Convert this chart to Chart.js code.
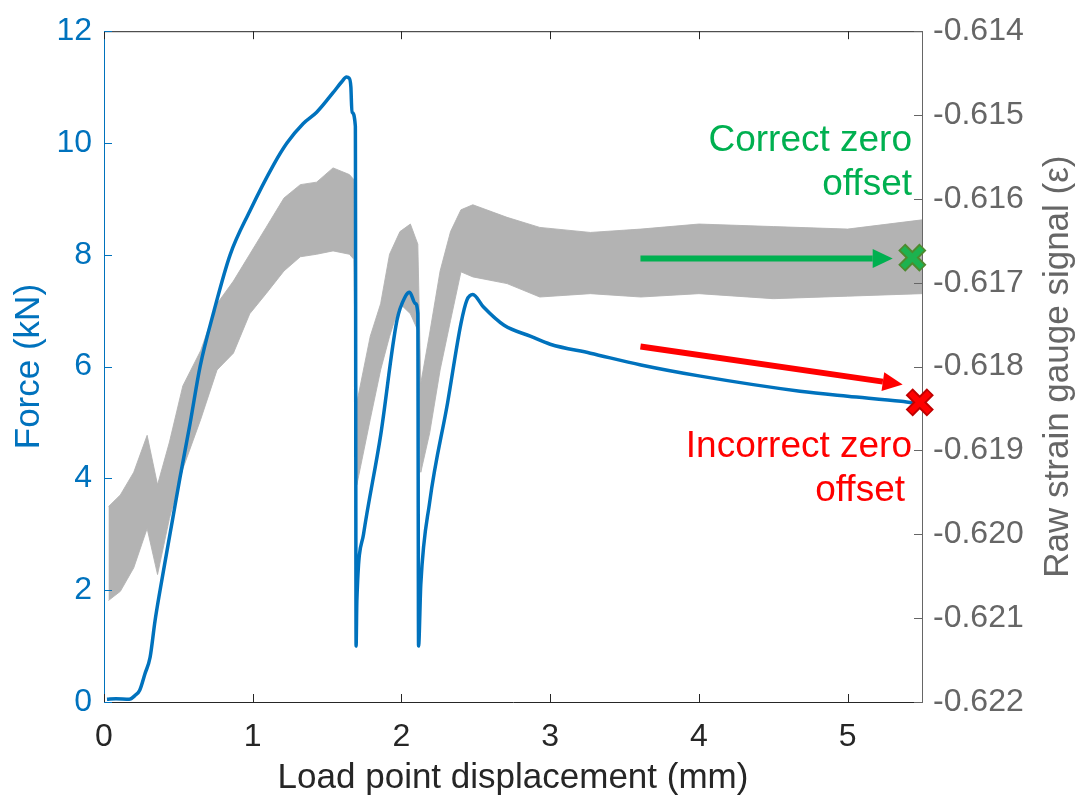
<!DOCTYPE html>
<html>
<head>
<meta charset="utf-8">
<script src="https://cdn.jsdelivr.net/npm/chart.js@4.4.1/dist/chart.umd.min.js"></script>
<style>
  body { margin: 0; background: #fff; }
  canvas { display: block; }
</style>
</head>
<body>
<canvas id="chart" width="1079" height="801"></canvas>
<script>
// Lực (kN) theo chuyển vị (mm)
const forceX = [0.02, 0.08, 0.17, 0.21, 0.24, 0.276, 0.31, 0.343, 0.377, 0.42, 0.46, 0.51, 0.58, 0.646, 0.74, 0.848, 0.98, 1.14, 1.23, 1.34, 1.43, 1.54, 1.60, 1.63, 1.648, 1.66, 1.667, 1.69, 1.695, 1.70, 1.745, 1.86, 1.97, 2.025, 2.055, 2.093, 2.11, 2.115, 2.13, 2.19, 2.31, 2.40, 2.44, 2.48, 2.55, 2.69, 2.87, 3.0, 3.27, 3.61, 4.01, 4.68, 5.0, 5.36, 5.49];
const forceY = [0.05, 0.06, 0.05, 0.12, 0.21, 0.51, 0.8, 1.45, 2.0, 2.65, 3.25, 4.0, 5.0, 6.0, 7.0, 8.0, 8.78, 9.61, 10.0, 10.35, 10.55, 10.9, 11.1, 11.18, 11.16, 11.0, 10.55, 10.3, 1.0, 1.8, 3.0, 4.77, 6.83, 7.25, 7.33, 7.13, 6.95, 1.0, 2.1, 3.58, 5.35, 6.77, 7.19, 7.29, 7.07, 6.74, 6.54, 6.4, 6.24, 6.03, 5.83, 5.56, 5.47, 5.38, 5.33];

// Tín hiệu strain gauge (dải nhiễu: biên trên / biên dưới)
const strainX = [0.03, 0.11, 0.20, 0.29, 0.36, 0.44, 0.53, 0.65, 0.76, 0.87, 0.98, 1.09, 1.21, 1.32, 1.43, 1.54, 1.65, 1.68, 1.70, 1.79, 1.86, 1.92, 1.99, 2.06, 2.11, 2.13, 2.19, 2.26, 2.33, 2.40, 2.48, 2.71, 2.93, 3.27, 3.61, 4.00, 4.50, 5.00, 5.50];
const strainUpper = [-0.61967, -0.61953, -0.61926, -0.61882, -0.61941, -0.61890, -0.61823, -0.61781, -0.61725, -0.61698, -0.61666, -0.61634, -0.61599, -0.61583, -0.61580, -0.61563, -0.61571, -0.61577, -0.61843, -0.61764, -0.61725, -0.61666, -0.61639, -0.61630, -0.61654, -0.61820, -0.61760, -0.61686, -0.61639, -0.61613, -0.61607, -0.61622, -0.61634, -0.61640, -0.61636, -0.61630, -0.61633, -0.61636, -0.61625];
const strainLower = [-0.62079, -0.62068, -0.62040, -0.61993, -0.62048, -0.61981, -0.61922, -0.61863, -0.61804, -0.61784, -0.61737, -0.61713, -0.61686, -0.61669, -0.61666, -0.61662, -0.61666, -0.61672, -0.61941, -0.61863, -0.61804, -0.61764, -0.61725, -0.61737, -0.61757, -0.61926, -0.61879, -0.61804, -0.61745, -0.61687, -0.61693, -0.61701, -0.61717, -0.61713, -0.61717, -0.61713, -0.61719, -0.61716, -0.61713];

// Mũi tên và điểm đánh dấu
const correctArrowX = [3.607, 5.303];
const correctArrowY = [-0.61671, -0.61671];
const incorrectArrowX = [3.607, 5.37];
const incorrectArrowY = [6.36, 5.68];
const correctMarkX = [5.435];
const correctMarkY = [-0.61670];
const incorrectMarkX = [5.485];
const incorrectMarkY = [5.36];

// Nhãn trục
const xTicks = [0, 1, 2, 3, 4, 5];
const forceTicks = [0, 2, 4, 6, 8, 10, 12];
const strainTicks = [-0.622, -0.621, -0.62, -0.619, -0.618, -0.617, -0.616, -0.615, -0.614];

const BLUE = "#0072BD";
const GREY_AXIS = "#666666";
const DARK = "#262626";
const FONT = "'Liberation Sans', Arial, sans-serif";

function pts(xs, ys) {
  return xs.map((x, i) => ({ x: x, y: ys[i] }));
}

// Vẽ mũi tên, vạch chia hướng vào trong, chữ chú thích
const overlayPlugin = {
  id: "overlay",
  afterDatasetsDraw(chart) {
    const ctx = chart.ctx;
    chart.data.datasets.forEach((ds, i) => {
      if (!ds.arrow) return;
      const p = chart.getDatasetMeta(i).data;
      const p0 = p[0], p1 = p[1];
      const ang = Math.atan2(p1.y - p0.y, p1.x - p0.x);
      const head = 20, half = 9.5;
      const bx = p1.x - head * Math.cos(ang);
      const by = p1.y - head * Math.sin(ang);
      ctx.save();
      ctx.strokeStyle = ds.borderColor;
      ctx.fillStyle = ds.borderColor;
      ctx.lineWidth = 6;
      ctx.beginPath();
      ctx.moveTo(p0.x, p0.y);
      ctx.lineTo(bx, by);
      ctx.stroke();
      ctx.beginPath();
      ctx.moveTo(p1.x, p1.y);
      ctx.lineTo(bx - half * Math.sin(ang), by + half * Math.cos(ang));
      ctx.lineTo(bx + half * Math.sin(ang), by - half * Math.cos(ang));
      ctx.closePath();
      ctx.fill();
      ctx.restore();
    });
  },
  afterDraw(chart) {
    const ctx = chart.ctx;
    const a = chart.chartArea;
    const sx = chart.scales.x, sy = chart.scales.y, sy2 = chart.scales.y2;
    const tl = 8;
    ctx.save();
    ctx.lineWidth = 1;
    // viền trên
    ctx.strokeStyle = DARK;
    ctx.beginPath();
    ctx.moveTo(a.left, a.top + 0.5);
    ctx.lineTo(a.right, a.top + 0.5);
    ctx.stroke();
    // vạch trục x (dưới và trên)
    xTicks.forEach((v) => {
      const px = Math.round(sx.getPixelForValue(v)) + 0.5;
      ctx.beginPath();
      ctx.moveTo(px, a.bottom);
      ctx.lineTo(px, a.bottom - tl);
      ctx.moveTo(px, a.top);
      ctx.lineTo(px, a.top + tl);
      ctx.stroke();
    });
    // vạch trục trái
    ctx.strokeStyle = BLUE;
    forceTicks.forEach((v) => {
      const py = Math.round(sy.getPixelForValue(v)) + 0.5;
      ctx.beginPath();
      ctx.moveTo(a.left, py);
      ctx.lineTo(a.left + tl, py);
      ctx.stroke();
    });
    // vạch trục phải
    ctx.strokeStyle = GREY_AXIS;
    strainTicks.forEach((v) => {
      const py = Math.round(sy2.getPixelForValue(v)) + 0.5;
      ctx.beginPath();
      ctx.moveTo(a.right, py);
      ctx.lineTo(a.right - tl, py);
      ctx.stroke();
    });
    // tiêu đề trục phải (đọc từ dưới lên)
    ctx.fillStyle = GREY_AXIS;
    ctx.font = "35px " + FONT;
    ctx.textAlign = "center";
    ctx.textBaseline = "alphabetic";
    ctx.translate(chart.width - 11, (a.top + a.bottom) / 2);
    ctx.rotate(-Math.PI / 2);
    ctx.fillText("Raw strain gauge signal (\u03b5)", 0, 0);
    ctx.restore();

    // chú thích
    ctx.save();
    ctx.font = "37px " + FONT;
    ctx.textAlign = "right";
    ctx.textBaseline = "alphabetic";
    ctx.fillStyle = "#00B050";
    ctx.fillText("Correct zero", a.right - 10, 151);
    ctx.fillText("offset", a.right - 10, 195);
    ctx.fillStyle = "#FF0000";
    ctx.fillText("Incorrect zero", a.right - 10, 457);
    ctx.fillText("offset", a.right - 17, 501);
    ctx.restore();
  },
};

const ctx = document.getElementById("chart").getContext("2d");
window.forceChart = new Chart(ctx, {
  type: "scatter",
  data: {
    datasets: [
      {
        label: "strain upper",
        data: pts(strainX, strainUpper),
        yAxisID: "y2",
        showLine: true,
        borderColor: "rgba(179,179,179,0.9)",
        backgroundColor: "rgb(179,179,179)",
        borderWidth: 1,
        pointRadius: 0,
        fill: 1,
        order: 5,
      },
      {
        label: "strain lower",
        data: pts(strainX, strainLower),
        yAxisID: "y2",
        showLine: true,
        borderColor: "rgba(179,179,179,0.9)",
        borderWidth: 1,
        pointRadius: 0,
        fill: false,
        order: 5,
      },
      {
        label: "Force",
        data: pts(forceX, forceY),
        yAxisID: "y",
        showLine: true,
        borderColor: BLUE,
        borderWidth: 3.5,
        pointRadius: 0,
        cubicInterpolationMode: "monotone",
        fill: false,
        order: 4,
      },
      {
        label: "correct arrow",
        data: pts(correctArrowX, correctArrowY),
        yAxisID: "y2",
        showLine: false,
        pointRadius: 0,
        borderColor: "#00B050",
        arrow: true,
        clip: false,
        order: 3,
      },
      {
        label: "incorrect arrow",
        data: pts(incorrectArrowX, incorrectArrowY),
        yAxisID: "y",
        showLine: false,
        pointRadius: 0,
        borderColor: "#FF0000",
        arrow: true,
        clip: false,
        order: 3,
      },
      {
        label: "correct mark edge",
        data: pts(correctMarkX, correctMarkY),
        yAxisID: "y2",
        pointStyle: "crossRot",
        pointRadius: 15,
        pointBorderWidth: 10,
        pointBorderColor: "#4E8A2E",
        clip: false,
        order: 2,
      },
      {
        label: "correct mark",
        data: pts(correctMarkX, correctMarkY),
        yAxisID: "y2",
        pointStyle: "crossRot",
        pointRadius: 13.5,
        pointBorderWidth: 6,
        pointBorderColor: "#1DB24F",
        clip: false,
        order: 1,
      },
      {
        label: "incorrect mark edge",
        data: pts(incorrectMarkX, incorrectMarkY),
        yAxisID: "y",
        pointStyle: "crossRot",
        pointRadius: 15,
        pointBorderWidth: 10,
        pointBorderColor: "#C00000",
        clip: false,
        order: 2,
      },
      {
        label: "incorrect mark",
        data: pts(incorrectMarkX, incorrectMarkY),
        yAxisID: "y",
        pointStyle: "crossRot",
        pointRadius: 13.5,
        pointBorderWidth: 6,
        pointBorderColor: "#FF0000",
        clip: false,
        order: 1,
      },
    ],
  },
  options: {
    responsive: false,
    animation: false,
    devicePixelRatio: 1,
    layout: { padding: { top: 25, left: 0, right: 0, bottom: 0 } },
    plugins: {
      legend: { display: false },
      tooltip: { enabled: false },
    },
    scales: {
      x: {
        type: "linear",
        position: "bottom",
        min: 0,
        max: 5.5,
        afterBuildTicks: (s) => { s.ticks = xTicks.map((v) => ({ value: v })); },
        afterFit: (s) => { s.height = 99; },
        grid: { display: false, drawTicks: false },
        border: { display: true, color: DARK, width: 1 },
        ticks: {
          color: DARK,
          padding: 16,
          font: { family: FONT, size: 32 },
          maxRotation: 0,
          callback: (v) => String(v),
        },
        title: {
          display: true,
          text: "Load point displacement (mm)",
          color: DARK,
          font: { family: FONT, size: 35 },
          padding: { top: 0, bottom: 2 },
        },
      },
      y: {
        type: "linear",
        position: "left",
        min: 0,
        max: 12,
        afterBuildTicks: (s) => { s.ticks = forceTicks.map((v) => ({ value: v })); },
        afterFit: (s) => { s.width = 104; },
        grid: { display: false, drawTicks: false },
        border: { display: true, color: BLUE, width: 1 },
        ticks: {
          color: BLUE,
          padding: 12,
          font: { family: FONT, size: 32 },
          callback: (v) => String(v),
        },
        title: {
          display: true,
          text: "Force (kN)",
          color: BLUE,
          font: { family: FONT, size: 35 },
          padding: { top: 8, bottom: 0 },
        },
      },
      y2: {
        type: "linear",
        position: "right",
        min: -0.622,
        max: -0.614,
        afterBuildTicks: (s) => { s.ticks = strainTicks.map((v) => ({ value: v })); },
        afterFit: (s) => { s.width = 157; },
        grid: { display: false, drawTicks: false },
        border: { display: true, color: GREY_AXIS, width: 1 },
        ticks: {
          color: GREY_AXIS,
          padding: 11,
          font: { family: FONT, size: 32 },
          callback: (v) => v.toFixed(3),
        },
      },
    },
  },
  plugins: [overlayPlugin],
});
</script>
</body>
</html>
